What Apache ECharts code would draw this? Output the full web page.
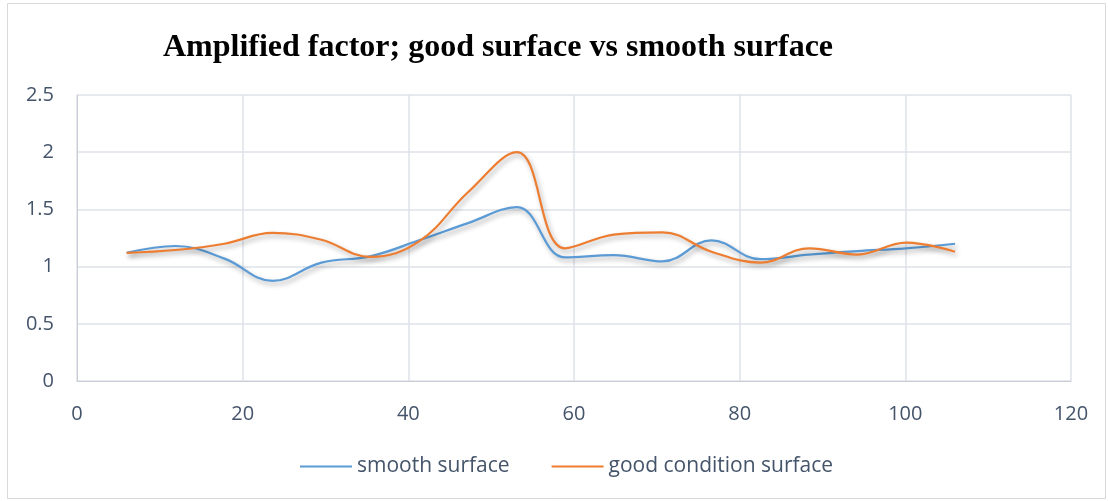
<!DOCTYPE html>
<html>
<head>
<meta charset="utf-8">
<script src="https://cdn.jsdelivr.net/npm/echarts@6/dist/echarts.min.js"></script>
<style>
  html, body { margin: 0; padding: 0; background: #fff; }
  #chart { width: 1108px; height: 501px; }
</style>
</head>
<body>
<div id="chart"></div>
<script>
// Sample positions along the surface
const positions = [6, 11.9, 17.8, 23.6, 29.5, 35.4, 41.3, 47.2, 53.1, 58.9, 64.8, 70.7, 76.6, 82.5, 88.4, 94.2, 100.1, 106];
// Amplified factor per surface type
const smoothSurface = [1.12, 1.18, 1.07, 0.875, 1.035, 1.09, 1.23, 1.38, 1.52, 1.08, 1.10, 1.045, 1.23, 1.065, 1.105, 1.135, 1.16, 1.2];
const goodConditionSurface = [1.12, 1.145, 1.2, 1.295, 1.235, 1.085, 1.22, 1.65, 2.0, 1.16, 1.28, 1.3, 1.13, 1.035, 1.16, 1.105, 1.21, 1.13];
const seriesNames = ['smooth surface', 'good condition surface'];

const pair = (xs, ys) => xs.map((x, i) => [x, ys[i]]);

const lineShadow = {
  shadowColor: 'rgba(0,0,0,0.33)',
  shadowBlur: 5,
  shadowOffsetX: 2,
  shadowOffsetY: 3
};

const chart = echarts.init(document.getElementById('chart'));
chart.setOption({
  animation: false,
  backgroundColor: '#fff',
  title: {
    text: 'Amplified factor; good surface vs smooth surface',
    left: 493,
    textAlign: 'center',
    top: 27,
    textStyle: {
      fontFamily: 'Liberation Serif',
      fontWeight: 'bold',
      fontSize: 32,
      color: '#000'
    }
  },
  legend: {
    data: seriesNames,
    bottom: 19,
    left: 295,
    icon: 'rect',
    itemWidth: 52,
    itemHeight: 2,
    itemGap: 42,
    textStyle: { fontFamily: 'Open Sans', fontSize: 21, color: '#44546A' }
  },
  grid: { left: 77, right: 37, top: 95, bottom: 120 },
  xAxis: {
    type: 'value',
    min: 0,
    max: 120,
    interval: 20,
    axisLine: { lineStyle: { color: '#C9CED6' } },
    axisTick: { show: false },
    axisLabel: { fontFamily: 'Open Sans', fontSize: 20, color: '#44546A', margin: 23 },
    splitLine: { show: true, lineStyle: { color: '#DEE2E8', width: 1.5 } }
  },
  yAxis: {
    type: 'value',
    min: 0,
    max: 2.5,
    interval: 0.5,
    axisLine: { show: true, lineStyle: { color: '#C9CED6' } },
    axisTick: { show: false },
    axisLabel: { fontFamily: 'Open Sans', fontSize: 20, color: '#44546A', margin: 23 },
    splitLine: { lineStyle: { color: '#DEE2E8', width: 1.5 } }
  },
  series: [
    {
      name: seriesNames[0],
      type: 'line',
      data: pair(positions, smoothSurface),
      smooth: 0.4,
      showSymbol: false,
      color: '#5B9BD5',
      lineStyle: Object.assign({ width: 2.2, color: '#5B9BD5' }, lineShadow)
    },
    {
      name: seriesNames[1],
      type: 'line',
      data: pair(positions, goodConditionSurface),
      smooth: 0.4,
      showSymbol: false,
      color: '#ED7D31',
      lineStyle: Object.assign({ width: 2.2, color: '#ED7D31' }, lineShadow)
    }
  ],
  graphic: [
    {
      type: 'rect',
      shape: { x: 7.5, y: 3.5, width: 1098, height: 495 },
      style: { fill: 'none', stroke: '#D9D9D9', lineWidth: 1 },
      silent: true
    }
  ]
});
</script>
</body>
</html>
